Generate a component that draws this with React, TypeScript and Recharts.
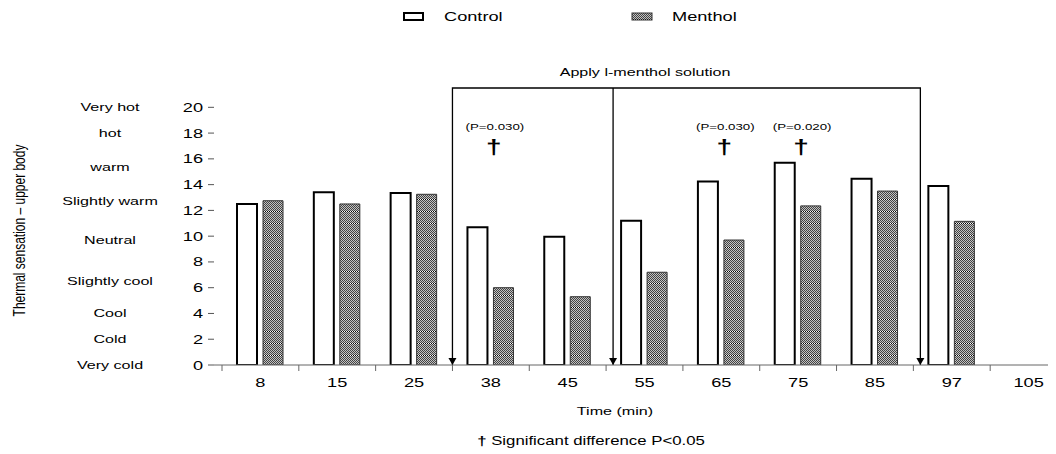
import React from 'react';
import {
  BarChart,
  Bar,
  XAxis,
  YAxis,
  Legend,
  ReferenceArea,
  ReferenceLine,
  ReferenceDot,
} from 'recharts';

// ---------- data ----------
const times = ['8', '15', '25', '38', '45', '55', '65', '75', '85', '97', '105'];
const controlValues = [12.5, 13.4, 13.35, 10.7, 9.95, 11.2, 14.25, 15.7, 14.45, 13.9, null];
const mentholValues = [12.75, 12.5, 13.25, 6.0, 5.3, 7.2, 9.7, 12.35, 13.5, 11.15, null];
const yTicks = [0, 2, 4, 6, 8, 10, 12, 14, 16, 18, 20];
const sensationWords = ['Very cold', 'Cold', 'Cool', 'Slightly cool', 'Neutral', 'Slightly warm', 'warm', 'hot', 'Very hot'];
const sensationLevels = [0, 2, 4, 6.55, 9.7, 12.7, 15.4, 18, 20];
const sigTimes = ['38', '65', '75'];
const sigPValues = ['(P=0.030)', '(P=0.030)', '(P=0.020)'];
const applyStart = '38';
const applyMid = '55';
const applyEnd = '85';
const applyText = 'Apply l-menthol solution';
const yLabelText = 'Thermal sensation \u2013 upper body';
const xLabelText = 'Time (min)';
const footnoteText = 'Significant difference P<0.05';
const seriesNames = ['Control', 'Menthol'];

const data = times.map((t, i) => ({ time: t, control: controlValues[i], menthol: mentholValues[i] }));

// ---------- style ----------
const FONT = '"Liberation Sans", Arial, Helvetica, sans-serif';
const SX = 1.4; // the reference is stretched horizontally
const CHART_W = 1059;
const CHART_H = 446;
const Y_MAX = 21.5;
const AXIS_COLOR = '#666';
const DAGGER_Y = 17.0;
const PTEXT_Y = 18.5;
const ARROW_SHIFT = 7; // later arrows sit slightly right of the category boundary

function SText({ x, y, anchor = 'middle', size = 13, weight, children }: any) {
  return (
    <text
      transform={`translate(${x},${y}) scale(${SX},1)`}
      textAnchor={anchor}
      dy="0.35em"
      fontSize={size}
      fontFamily={FONT}
      fontWeight={weight}
      fill="#000"
    >
      {children}
    </text>
  );
}

const XTick = (props: any) => {
  const { x, y, payload, index } = props;
  const half = payload && typeof payload.offset === 'number' && payload.offset > 0 ? payload.offset : 38.4;
  return (
    <g>
      <line x1={x - half} x2={x - half} y1={y} y2={y + 6} stroke={AXIS_COLOR} strokeWidth={1} />
      {index === times.length - 1 && (
        <line x1={x + half} x2={x + half} y1={y} y2={y + 6} stroke={AXIS_COLOR} strokeWidth={1} />
      )}
      <SText x={x} y={y + 17} size={13}>
        {payload.value}
      </SText>
    </g>
  );
};

const YNumTick = (props: any) => {
  const { x, y, payload } = props;
  return (
    <SText x={x} y={y} anchor="end" size={13}>
      {payload.value}
    </SText>
  );
};

const WordTick = (props: any) => {
  const { x, y, payload } = props;
  const i = sensationLevels.indexOf(payload.value);
  return (
    <SText x={x - 64} y={y} size={11.5}>
      {sensationWords[i]}
    </SText>
  );
};

const YLabel = (props: any) => {
  const vb = props.viewBox || { x: 0, y: 80, width: 166, height: 277 };
  const cx = vb.x + 11;
  const cy = vb.y + vb.height / 2 + 4;
  return (
    <text
      transform={`translate(${cx},${cy}) scale(${SX},1) rotate(-90)`}
      textAnchor="middle"
      dy="0.35em"
      fontSize={12}
      fontFamily={FONT}
      fill="#000"
    >
      {yLabelText}
    </text>
  );
};

const XLabel = (props: any) => {
  const vb = props.viewBox || { x: 206, y: 357, width: 853, height: 60 };
  return (
    <g>
      <SText x={vb.x + 401} y={vb.y + 46} size={11.5}>
        {xLabelText}
      </SText>
      <text
        transform={`translate(${vb.x + 377},${vb.y + 76}) scale(${SX},1)`}
        textAnchor="middle"
        dy="0.35em"
        fontSize={12}
        fontFamily={FONT}
        fill="#000"
      >
        <tspan fontWeight="bold">{'\u2020'}</tspan>
        {' ' + footnoteText}
      </text>
    </g>
  );
};

const Arrowhead = ({ x, y }: any) => (
  <path d={`M${x - 4},${y - 7} L${x + 4},${y - 7} L${x},${y} Z`} fill="#000" />
);

const ApplyBox = (props: any) => {
  const { x, y, width, height } = props;
  const bottom = y + height;
  const right = x + width + ARROW_SHIFT;
  return (
    <g>
      <path
        d={`M${x},${bottom} V${y} H${right} V${bottom}`}
        fill="none"
        stroke="#000"
        strokeWidth={1.3}
      />
      <Arrowhead x={x} y={bottom} />
      <Arrowhead x={right} y={bottom} />
    </g>
  );
};

const MidArrow = (props: any) => {
  const { x1, y1, y2 } = props;
  const top = Math.min(y1, y2);
  const bottom = Math.max(y1, y2);
  const x = x1 + ARROW_SHIFT;
  return (
    <g>
      <line x1={x} x2={x} y1={top} y2={bottom} stroke="#000" strokeWidth={1.3} />
      <Arrowhead x={x} y={bottom} />
      <SText x={x1 + 39} y={top - 16} size={11.5}>
        {applyText}
      </SText>
    </g>
  );
};

const DaggerShape = (props: any) => {
  const { cx, cy } = props;
  return (
    <SText x={cx + 3} y={cy + 1} size={20} weight="bold">
      {'\u2020'}
    </SText>
  );
};

const makePShape = (label: string) => (props: any) => {
  const { cx, cy } = props;
  return (
    <SText x={cx + 4} y={cy} size={9.5}>
      {label}
    </SText>
  );
};

const LegendContent = (props: any) => {
  const payload = props.payload || [];
  const xs = [396, 624];
  const textXs = [436, 664];
  return (
    <svg width={CHART_W} height={24} style={{ display: 'block' }}>
      {seriesNames.map((name, i) => {
        const item = payload.find((p: any) => p.value === name);
        const label = item ? item.value : name;
        return (
          <g key={name}>
            {i === 0 ? (
              <rect x={xs[i]} y={5} width={19} height={7} fill="#fff" stroke="#000" strokeWidth={2} />
            ) : (
              <rect x={xs[i]} y={5} width={20} height={7} fill="url(#mentholPattern)" stroke="#333" strokeWidth={1} />
            )}
            <SText x={textXs[i]} y={8} anchor="start" size={13}>
              {label}
            </SText>
          </g>
        );
      })}
    </svg>
  );
};

const patternRows = Array.from({ length: 12 }, (_, r) => r);

export default function App() {
  return (
    <div style={{ width: 1048, height: CHART_H, overflow: 'hidden' }}>
      <BarChart
        width={CHART_W}
        height={CHART_H}
        data={data}
        margin={{ top: 56, right: 0, bottom: 29, left: 0 }}
        barSize={20}
        barGap={6}
      >
        <defs>
          <pattern id="mentholPattern" patternUnits="userSpaceOnUse" width={2} height={12}>
            <rect x={0} y={0} width={2} height={12} fill="#c2c2c2" />
            {patternRows.map((r) => (
              <rect
                key={r}
                x={r % 2}
                y={r}
                width={1}
                height={1}
                fill={r === 11 ? '#000' : '#444'}
              />
            ))}
            <rect x={0} y={11} width={1} height={1} fill="#fff" />
          </pattern>
        </defs>
        <Legend
          verticalAlign="top"
          align="left"
          content={<LegendContent />}
          wrapperStyle={{ top: 0, left: 0, width: CHART_W, height: 24 }}
        />
        <XAxis
          dataKey="time"
          type="category"
          interval={0}
          tickLine={false}
          tickSize={0}
          tickMargin={0}
          axisLine={{ stroke: AXIS_COLOR, strokeWidth: 1 }}
          padding={{ left: 8, right: 0 }}
          height={60}
          tick={<XTick />}
          label={<XLabel />}
        />
        <YAxis
          type="number"
          domain={[0, Y_MAX]}
          allowDataOverflow={true}
          ticks={yTicks}
          interval={0}
          width={40}
          axisLine={false}
          tickLine={{ stroke: '#555', strokeWidth: 1 }}
          tickSize={6}
          tickMargin={5}
          tick={<YNumTick />}
        />
        <YAxis
          yAxisId="words"
          type="number"
          domain={[0, Y_MAX]}
          allowDataOverflow={true}
          ticks={sensationLevels}
          interval={0}
          width={166}
          axisLine={false}
          tickLine={false}
          tickSize={0}
          tickMargin={0}
          tick={<WordTick />}
          label={<YLabel />}
        />
        <ReferenceArea
          x1={applyStart}
          x2={applyEnd}
          y1={0}
          y2={Y_MAX}
          ifOverflow="visible"
          shape={<ApplyBox />}
        />
        <ReferenceLine x={applyMid} position="start" ifOverflow="visible" shape={(p: any) => <MidArrow {...p} />} />
        <Bar
          dataKey="control"
          name={seriesNames[0]}
          fill="#ffffff"
          stroke="#000"
          strokeWidth={2}
          isAnimationActive={false}
        />
        <Bar
          dataKey="menthol"
          name={seriesNames[1]}
          fill="url(#mentholPattern)"
          stroke="#333"
          strokeWidth={1}
          isAnimationActive={false}
        />
        {sigTimes.map((t) => (
          <ReferenceDot key={'d' + t} x={t} y={DAGGER_Y} r={0} ifOverflow="visible" shape={<DaggerShape />} />
        ))}
        {sigTimes.map((t, i) => (
          <ReferenceDot key={'p' + t} x={t} y={PTEXT_Y} r={0} ifOverflow="visible" shape={makePShape(sigPValues[i])} />
        ))}
      </BarChart>
    </div>
  );
}
